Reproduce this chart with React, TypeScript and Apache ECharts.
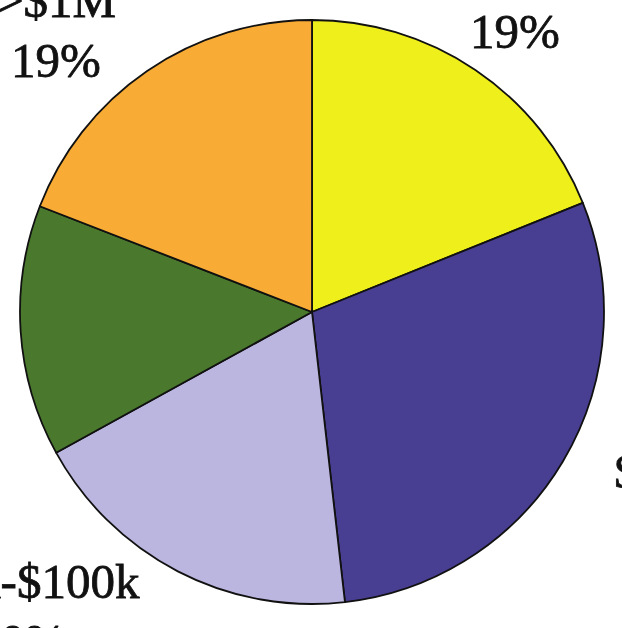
import React, { useEffect, useRef } from "react";
import * as echarts from "echarts";

const categories = ["$500k-$1M", "$100k-$500k", "$50k-$100k", "<$50k", ">$1M"];
const values = [18.9, 29.3, 18.8, 13.9, 19.1];
const percentLabels = ["19%", "29%", "20%", "14%", "19%"];
const colors = ["#EFEF1C", "#483E92", "#BAB6E0", "#4A792E", "#F8AC36"];

// label block placements (x, y of block top, alignment)
const labelPlaces = [
  { x: 515, y: -58.5, align: "center" },
  { x: 745, y: 441.5, align: "center" },
  { x: 21, y: 551.5, align: "center" },
  { x: -160, y: 300, align: "center" },
  { x: 56, y: -29.5, align: "center" },
];

export default function App() {
  const ref = useRef<HTMLDivElement>(null);
  useEffect(() => {
    if (!ref.current) return;
    const chart = echarts.init(ref.current, null, { renderer: "svg" });
    chart.setOption({
      animation: false,
      backgroundColor: "#ffffff",
      series: [
        {
          type: "pie",
          center: [312, 312],
          radius: 292,
          startAngle: 90,
          clockwise: true,
          avoidLabelOverlap: false,
          itemStyle: { borderColor: "#111111", borderWidth: 1.8 },
          labelLine: { show: false },
          label: {
            show: true,
            position: "outside",
            fontFamily: "Liberation Serif",
            fontSize: 49,
            lineHeight: 60,
            color: "#111111",
            textBorderColor: "#111111",
            textBorderWidth: 0.8,
            formatter: (p: any) => `${p.name}\n${percentLabels[p.dataIndex]}`,
          },
          labelLayout: (p: any) => {
            const pl = labelPlaces[p.dataIndex];
            return { x: pl.x, y: pl.y, align: pl.align, verticalAlign: "top" };
          },
          data: categories.map((name, i) => ({
            name,
            value: values[i],
            itemStyle: { color: colors[i] },
          })),
        },
      ],
    });
    return () => chart.dispose();
  }, []);
  return (
    <div
      ref={ref}
      style={{ position: "fixed", left: 0, top: 0, width: 622, height: 628 }}
    />
  );
}
